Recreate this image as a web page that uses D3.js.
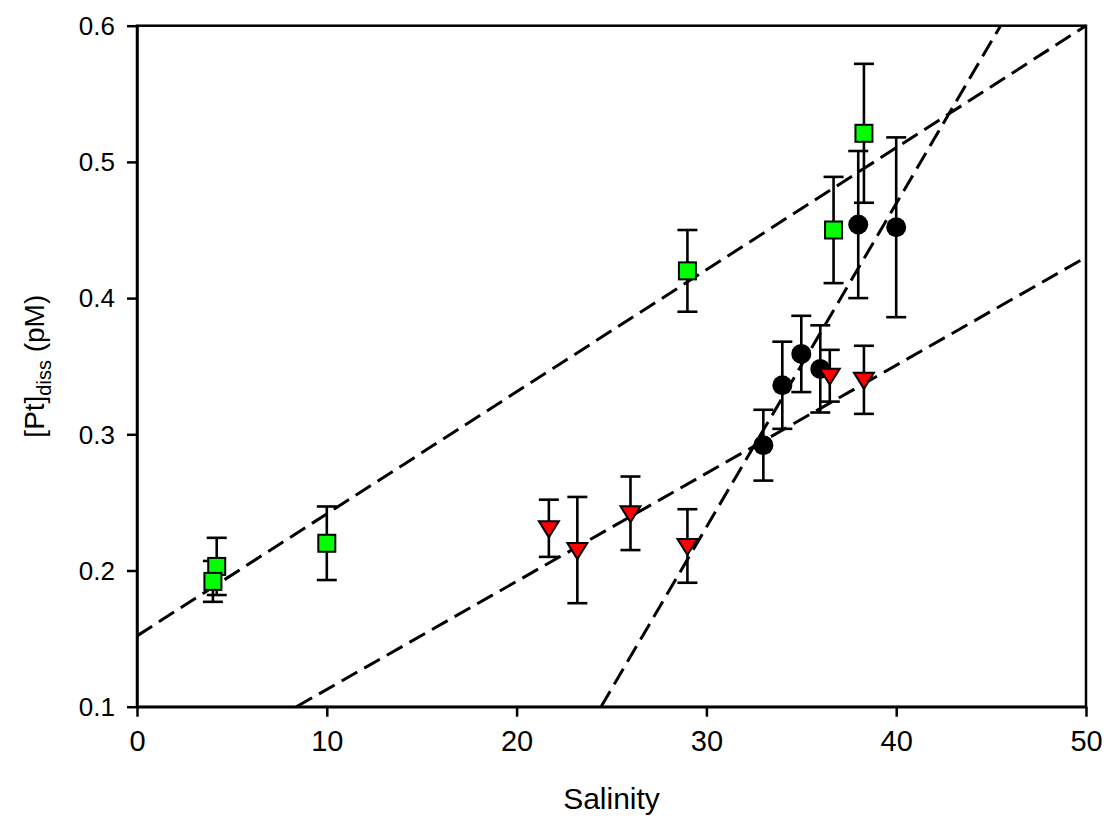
<!DOCTYPE html>
<html>
<head>
<meta charset="utf-8">
<script src="https://cdn.jsdelivr.net/npm/d3@7"></script>
<style>
  html, body { margin: 0; padding: 0; background: #fff; }
  svg { display: block; }
  text { font-family: "Liberation Sans", Arial, sans-serif; fill: #000; }
</style>
</head>
<body>
<svg id="chart" width="1104" height="818"></svg>
<script>
// ---- data ----
const xTicks = [0, 10, 20, 30, 40, 50];
const yTicks = [0.1, 0.2, 0.3, 0.4, 0.5, 0.6];

const greenSal = [4.2, 4.0, 10.0, 29.0, 36.7, 38.3];
const greenPt  = [0.203, 0.192, 0.220, 0.420, 0.450, 0.521];
const greenErr = [0.021, 0.015, 0.027, 0.030, 0.039, 0.051];

const blackSal = [33.0, 34.0, 35.0, 36.0, 38.0, 40.0];
const blackPt  = [0.292, 0.336, 0.359, 0.348, 0.454, 0.452];
const blackErr = [0.026, 0.032, 0.028, 0.032, 0.054, 0.066];

const redSal = [21.7, 23.2, 26.0, 29.0, 36.5, 38.3];
const redPt  = [0.231, 0.215, 0.242, 0.218, 0.343, 0.340];
const redErr = [0.021, 0.039, 0.027, 0.027, 0.019, 0.025];

// regression line end points [sal1, pt1, sal2, pt2]
const fitGreen = [0, 0.152, 50, 0.600];
const fitRed   = [8.4, 0.100, 50, 0.430];
const fitBlack = [24.45, 0.100, 45.5, 0.600];

// ---- layout ----
const svg = d3.select("#chart");
const L = 137, R = 1086, T = 25.7, B = 706.7;
const x = d3.scaleLinear().domain([0, 50]).range([L, R]);
const y = d3.scaleLinear().domain([0.1, 0.6]).range([B, T]);

// frame
svg.append("rect").attr("x", L).attr("y", T).attr("width", R - L).attr("height", B - T)
  .attr("fill", "none").attr("stroke", "#000").attr("stroke-width", 2.5);

// axes
const xAxis = svg.append("g").attr("transform", `translate(0,${B})`)
  .call(d3.axisBottom(x).tickValues(xTicks).tickSize(10).tickSizeOuter(0).tickPadding(14).tickFormat(d3.format("d")));
const yAxis = svg.append("g").attr("transform", `translate(${L},0)`)
  .call(d3.axisLeft(y).tickValues(yTicks).tickSize(10).tickSizeOuter(0).tickPadding(12).tickFormat(d3.format(".1f")));
[xAxis, yAxis].forEach(a => {
  a.select(".domain").attr("stroke", "#000").attr("stroke-width", 2.5);
  a.selectAll(".tick line").attr("stroke", "#000").attr("stroke-width", 2.5);
  a.selectAll("text").attr("font-family", "Liberation Sans, Arial, sans-serif").attr("fill", "#000");
});
xAxis.selectAll("text").attr("font-size", 29);
yAxis.selectAll("text").attr("font-size", 26).attr("dy", "0.34em");

// axis titles
svg.append("text").attr("x", (L + R) / 2).attr("y", 809).attr("text-anchor", "middle")
  .attr("font-size", 30).text("Salinity");
const yt = svg.append("text").attr("transform", `translate(44,${(T + B) / 2}) rotate(-90)`)
  .attr("text-anchor", "middle").attr("font-size", 28);
yt.append("tspan").text("[Pt]");
yt.append("tspan").attr("font-size", 20).attr("dy", 7).text("diss");
yt.append("tspan").attr("dy", -7).text(" (pM)");

// regression lines
const fits = [fitGreen, fitRed, fitBlack];
svg.append("g").selectAll("line").data(fits).join("line")
  .attr("x1", d => x(d[0])).attr("y1", d => y(d[1]))
  .attr("x2", d => x(d[2])).attr("y2", d => y(d[3]))
  .attr("stroke", "#000").attr("stroke-width", 3)
  .attr("stroke-dasharray", "18,8");

function series(sal, pt, err) {
  return sal.map((s, i) => ({ s, p: pt[i], e: err[i] }));
}
const capW = 10;
function errorBars(data) {
  const g = svg.append("g").attr("stroke", "#000").attr("stroke-width", 2.6);
  g.selectAll("line.v").data(data).join("line").attr("class", "v")
    .attr("x1", d => x(d.s)).attr("x2", d => x(d.s))
    .attr("y1", d => y(d.p + d.e)).attr("y2", d => y(d.p - d.e));
  g.selectAll("line.t").data(data).join("line").attr("class", "t")
    .attr("x1", d => x(d.s) - capW).attr("x2", d => x(d.s) + capW)
    .attr("y1", d => y(d.p + d.e)).attr("y2", d => y(d.p + d.e));
  g.selectAll("line.b").data(data).join("line").attr("class", "b")
    .attr("x1", d => x(d.s) - capW).attr("x2", d => x(d.s) + capW)
    .attr("y1", d => y(d.p - d.e)).attr("y2", d => y(d.p - d.e));
}

const green = series(greenSal, greenPt, greenErr);
const black = series(blackSal, blackPt, blackErr);
const red = series(redSal, redPt, redErr);

// green squares
errorBars(green);
svg.append("g").selectAll("rect").data(green).join("rect")
  .attr("x", d => x(d.s) - 8.5).attr("y", d => y(d.p) - 8.5)
  .attr("width", 17).attr("height", 17)
  .attr("fill", "#00ff00").attr("stroke", "#000").attr("stroke-width", 2);

// black circles
errorBars(black);
svg.append("g").selectAll("circle").data(black).join("circle")
  .attr("cx", d => x(d.s)).attr("cy", d => y(d.p)).attr("r", 10)
  .attr("fill", "#000");

// red triangles
errorBars(red);
svg.append("g").selectAll("path").data(red).join("path")
  .attr("d", d => `M${x(d.s) - 10},${y(d.p) - 7}L${x(d.s) + 10},${y(d.p) - 7}L${x(d.s)},${y(d.p) + 9}Z`)
  .attr("fill", "#ff0000").attr("stroke", "#000").attr("stroke-width", 2)
  .attr("stroke-linejoin", "miter");
</script>
</body>
</html>
